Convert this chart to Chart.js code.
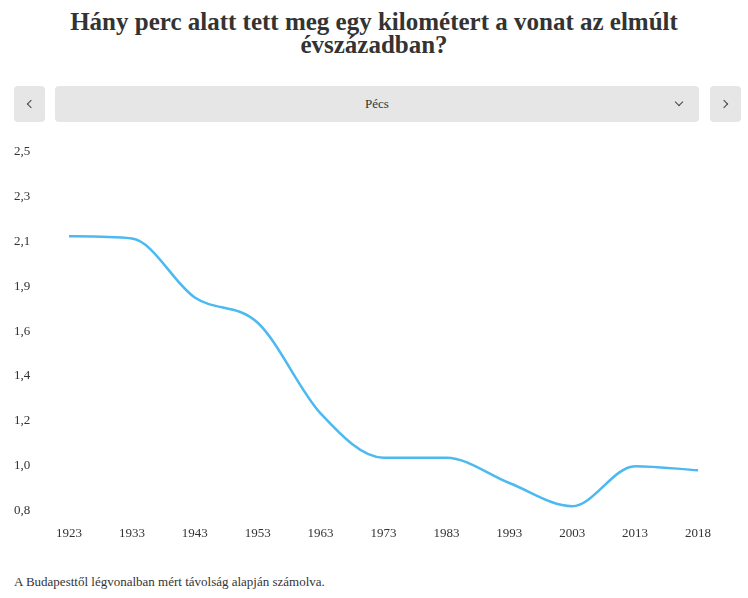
<!DOCTYPE html>
<html lang="hu">
<head>
<meta charset="utf-8">
<script src="https://cdn.jsdelivr.net/npm/chart.js@4"></script>
<style>
  html, body { margin: 0; padding: 0; background: #fff; }
  body { width: 748px; height: 598px; position: relative; overflow: hidden; font-family: "Liberation Serif", serif; color: #333; }
  h1 { position: absolute; left: 0; top: 10px; width: 748px; margin: 0; text-align: center; font-size: 25px; line-height: 23px; font-weight: bold; color: #333; }
  .bar { position: absolute; top: 86px; height: 36px; background: #e6e6e6; border-radius: 4px; font-size: 13px; line-height: 36px; text-align: center; }
  #prev { left: 14px; width: 31px; }
  #sel { left: 55px; width: 644px; }
  #next { left: 710px; width: 31px; }
  .chev { position: absolute; width: 5px; height: 5px; border-right: 1.5px solid #444; border-bottom: 1.5px solid #444; }
  #prev .chev { left: 14px; top: 15px; transform: rotate(135deg); }
  #next .chev { left: 11px; top: 15px; transform: rotate(-45deg); }
  #sel .chev { right: 17px; top: 13px; transform: rotate(45deg); }
  #wrap { position: absolute; left: 14px; top: 140px; width: 734px; height: 420px; }
  #note { position: absolute; left: 14px; top: 574px; font-size: 13px; }
</style>
</head>
<body>
<h1>Hány perc alatt tett meg egy kilométert a vonat az elmúlt<br>évszázadban?</h1>
<div class="bar" id="prev"><span class="chev"></span></div>
<div class="bar" id="sel">Pécs<span class="chev"></span></div>
<div class="bar" id="next"><span class="chev"></span></div>
<div id="wrap"><canvas id="chart"></canvas></div>
<div id="note">A Budapesttől légvonalban mért távolság alapján számolva.</div>
<script>
const years = ['1923', '1933', '1943', '1953', '1963', '1973', '1983', '1993', '2003', '2013', '2018'];
const minutesPerKm = [2.10, 2.09, 1.81, 1.69, 1.26, 1.05, 1.05, 0.93, 0.82, 1.01, 0.99];
const yTickLabels = ['0,8', '1,0', '1,2', '1,4', '1,6', '1,9', '2,1', '2,3', '2,5'];
const yMin = 0.8;
const yMax = 2.5;

const ctx = document.getElementById('chart').getContext('2d');
new Chart(ctx, {
    type: 'line',
    data: {
        labels: years,
        datasets: [{
            label: 'Pécs',
            data: minutesPerKm,
            borderColor: '#4cb9f1',
            borderWidth: 2.5,
            pointRadius: 0,
            fill: false,
            cubicInterpolationMode: 'monotone'
        }]
    },
    options: {
        responsive: true,
        maintainAspectRatio: false,
        animation: false,
        layout: { padding: { top: 12, right: 50, bottom: 12, left: 0 } },
        plugins: { legend: { display: false }, tooltip: { enabled: false } },
        scales: {
            x: {
                grid: { display: false },
                border: { display: false },
                ticks: {
                    color: '#333',
                    padding: 7,
                    maxRotation: 0,
                    font: { family: 'Liberation Serif', size: 13 }
                }
            },
            y: {
                min: yMin,
                max: yMax,
                grid: { display: false },
                border: { display: false },
                afterBuildTicks: (scale) => {
                    // evenly spaced ticks, labels
                    const n = yTickLabels.length;
                    scale.ticks = yTickLabels.map((t, i) => ({ value: yMin + (yMax - yMin) * i / (n - 1) }));
                },
                afterFit: (scale) => { scale.width = 55; },
                ticks: {
                    color: '#333',
                    crossAlign: 'far',
                    font: { family: 'Liberation Serif', size: 13 },
                    callback: (value, index) => yTickLabels[index]
                }
            }
        }
    }
});
</script>
</body>
</html>
